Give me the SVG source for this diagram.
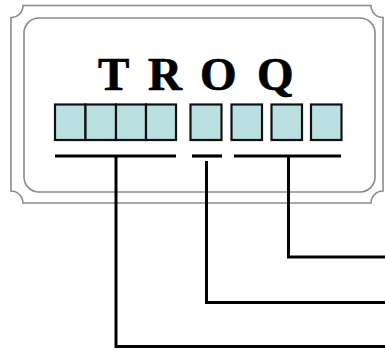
<svg xmlns="http://www.w3.org/2000/svg" width="385" height="350" viewBox="0 0 385 350">
  <style>
    .frame { fill: none; stroke: #8a8a8a; stroke-width: 1.6; }
    .box { fill: #bbe0e2; stroke: #111; stroke-width: 2.2; }
    .bar { stroke: #000; stroke-width: 3.2; fill: none; }
    .wire { stroke: #000; stroke-width: 3; fill: none; stroke-linejoin: miter; }
    .title { font-family: "Liberation Serif", "Times New Roman", serif; font-weight: bold; font-size: 47px; fill: #000; stroke: #000; stroke-width: 0.7; }
  </style>
  <rect width="385" height="350" fill="#fff"/>
  <g id="frame">
    <path class="frame" d="M23,5.5 L371,5.5 A12,12 0 0 0 383,17.5 L383,191 A12,12 0 0 0 371,203 L23,203 A12,12 0 0 0 11,191 L11,17.5 A12,12 0 0 0 23,5.5 Z"/>
    <rect class="frame" x="24" y="18" width="351" height="174" rx="15" ry="15"/>
  </g>
  <g id="title">
    <text class="title" x="98 148 200 257" y="90">TROQ</text>
  </g>
  <g id="group-a">
    <rect class="box" x="55" y="104.5" width="30.5" height="35.5"/>
    <rect class="box" x="85.5" y="104.5" width="30.5" height="35.5"/>
    <rect class="box" x="116" y="104.5" width="30" height="35.5"/>
    <rect class="box" x="146" y="104.5" width="30" height="35.5"/>
    <line class="bar" x1="55" y1="156" x2="176" y2="156"/>
  </g>
  <g id="group-b">
    <rect class="box" x="190.5" y="104.5" width="31" height="35.5"/>
    <line class="bar" x1="192" y1="156" x2="222" y2="156"/>
  </g>
  <g id="group-c">
    <rect class="box" x="231.5" y="104.5" width="30.5" height="35.5"/>
    <rect class="box" x="271.5" y="104.5" width="30.5" height="35.5"/>
    <rect class="box" x="311" y="104.5" width="30.5" height="35.5"/>
    <line class="bar" x1="234" y1="156" x2="341" y2="156"/>
  </g>
  <g id="connectors">
    <polyline class="wire" points="288.5,156 288.5,257 385,257"/>
    <polyline class="wire" points="206.5,161 206.5,302.5 385,302.5"/>
    <polyline class="wire" points="116,156 116,346.5 385,346.5"/>
  </g>
</svg>
